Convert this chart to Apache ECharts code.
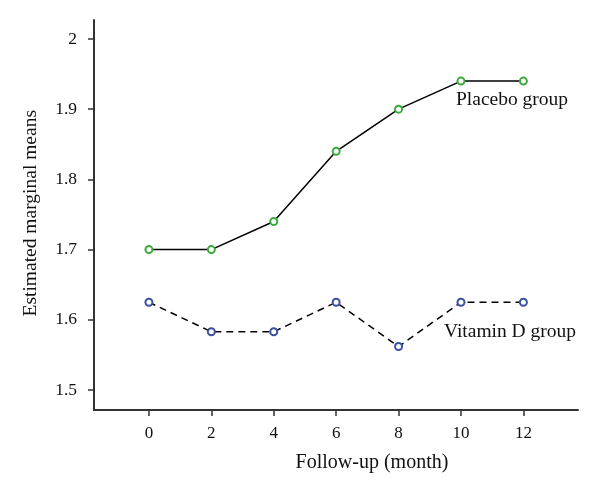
<!DOCTYPE html>
<html><head><meta charset="utf-8">
<script src="https://cdn.jsdelivr.net/npm/echarts@6/dist/echarts.min.js"></script>
<style>html,body{margin:0;padding:0;background:#fff}#c{width:600px;height:495px}</style>
</head><body><div id="c"></div>
<script>
const months = [0, 2, 4, 6, 8, 10, 12];
const placebo = [1.70, 1.70, 1.74, 1.84, 1.90, 1.94, 1.94];
const vitaminD = [1.625, 1.583, 1.583, 1.625, 1.562, 1.625, 1.625];
const yTicks = [1.5, 1.6, 1.7, 1.8, 1.9, 2];
const xTicks = [0, 2, 4, 6, 8, 10, 12];
const placeboName = 'Placebo group';
const vitaminName = 'Vitamin D group';

const FONT = '"Liberation Serif", "DejaVu Serif", serif';
const chart = echarts.init(document.getElementById('c'));

function build(vals, labelText, labelIdx, offset) {
  return months.map((m, i) => {
    const d = { value: [m, vals[i]] };
    if (i === labelIdx) {
      d.label = { show: true, formatter: labelText, position: 'inside', align: 'left',
        verticalAlign: 'middle', offset: offset, fontFamily: FONT, fontSize: 19.5, color: '#111' };
    }
    return d;
  });
}

chart.setOption({
  animation: false,
  grid: { left: 94, right: 22, top: 20, bottom: 85 },
  xAxis: {
    type: 'value', min: -1.76, max: 13.75,
    name: 'Follow-up (month)', nameLocation: 'middle', nameGap: 43,
    nameTextStyle: { fontFamily: FONT, fontSize: 20, color: '#111', padding: [0, 0, 0, 72] },
    axisLine: { show: true, onZero: false, lineStyle: { color: '#333', width: 2 } },
    axisTick: { show: true, length: 6, customValues: xTicks, lineStyle: { color: '#333', width: 1.5 } },
    axisLabel: { customValues: xTicks, margin: 15, fontFamily: FONT, fontSize: 17, color: '#111' },
    splitLine: { show: false }
  },
  yAxis: {
    type: 'value', min: 1.4716, max: 2.027,
    axisLine: { show: true, onZero: false, lineStyle: { color: '#333', width: 2 } },
    axisTick: { show: true, length: 6, customValues: yTicks, lineStyle: { color: '#333', width: 1.5 } },
    axisLabel: { customValues: yTicks, margin: 17, fontFamily: FONT, fontSize: 17.5, color: '#111' },
    splitLine: { show: false }
  },
  graphic: [{
    type: 'text', left: 21, top: 110, rotation: Math.PI / 2,
    style: { text: 'Estimated marginal means', font: '19.5px ' + FONT, fill: '#111' }
  }],
  series: [
    { type: 'line', name: placeboName, data: build(placebo, placeboName, 5, [-5, 19]),
      symbol: 'emptyCircle', symbolSize: 7,
      lineStyle: { color: '#000', width: 1.5 },
      itemStyle: { color: '#3aaa3a', borderColor: '#3aaa3a', borderWidth: 1.3 } },
    { type: 'line', name: vitaminName, data: build(vitaminD, vitaminName, 5, [-17, 30]),
      symbol: 'emptyCircle', symbolSize: 7,
      lineStyle: { color: '#000', width: 1.5, type: [7, 5] },
      itemStyle: { color: '#3a50a0', borderColor: '#3a50a0', borderWidth: 1.3 } }
  ]
});
</script></body></html>
